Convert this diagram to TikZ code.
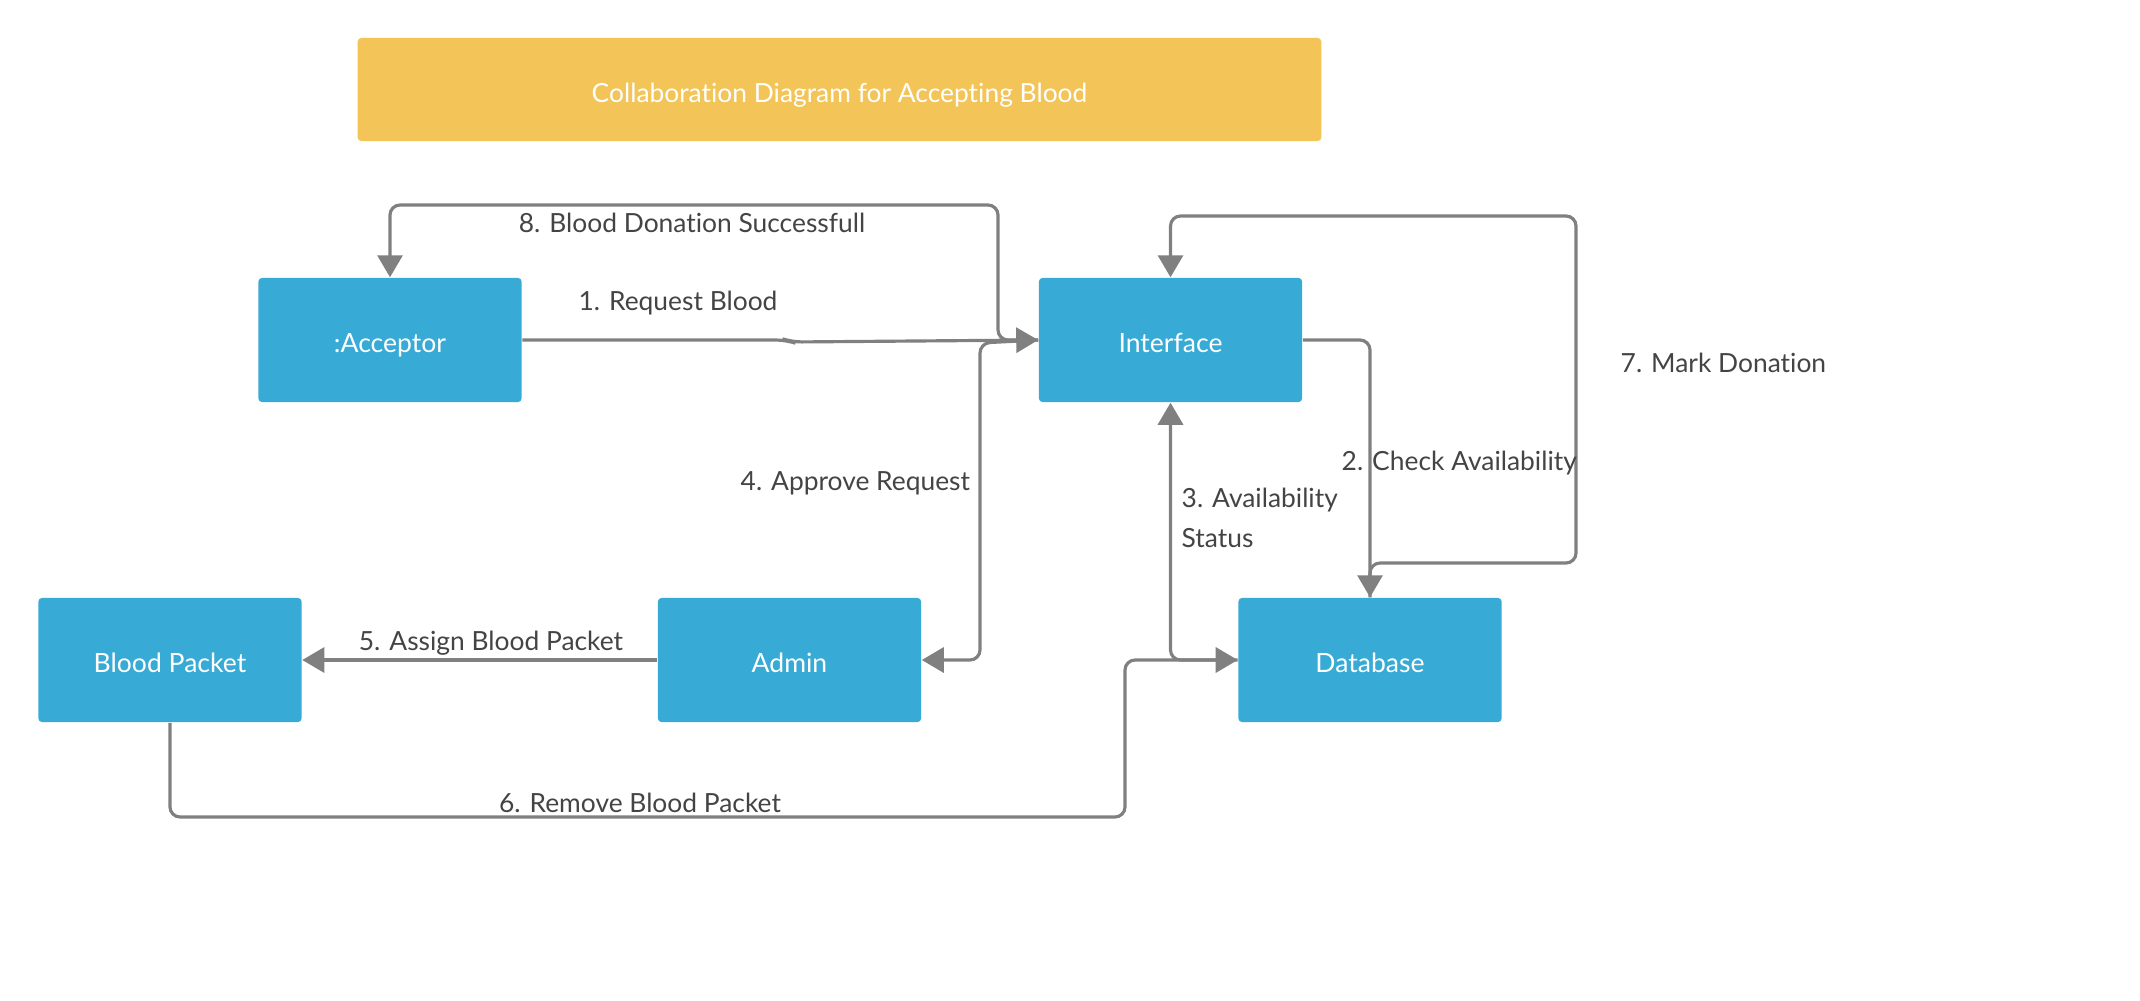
\documentclass[tikz,border=0pt]{standalone}
\usepackage{fontspec}
\setmainfont{Lato}[Ligatures=NoCommon]
\usetikzlibrary{arrows.meta}
\definecolor{boxblue}{HTML}{38AAD6}
\definecolor{titleyellow}{HTML}{F3C457}
\definecolor{linegray}{HTML}{808080}
\definecolor{labelgray}{HTML}{444444}
\begin{document}
\begin{tikzpicture}[x=0.01cm,y=-0.01cm,
  box/.style={fill=boxblue, text=white, minimum width=2.63cm, minimum height=1.24cm, inner sep=0pt, text height=0.3cm, text depth=0.05cm, font=\fontsize{7.55pt}{9pt}\selectfont, rounded corners=1pt},
  conn/.style={draw=linegray, line width=0.9pt, rounded corners=0.1cm, -{Triangle[length=0.22cm,width=0.25cm]}},
  lbl/.style={text=labelgray, font=\fontsize{7.5pt}{11.4pt}\selectfont, inner sep=0pt}]
\useasboundingbox (0,0) rectangle (2140,1000);
\fill[white] (0,0) rectangle (2140,1000);
\node[fill=titleyellow, text=white, minimum width=9.63cm, minimum height=1.03cm, inner sep=0pt, text height=0.3cm, text depth=0.05cm, rounded corners=1pt, font=\fontsize{7.5pt}{10pt}\selectfont] (title) at (839.5,89.5) {Collaboration Diagram for Accepting Blood};
\node[box] (acc) at (390,340) {:Acceptor};
\node[box] (intf) at (1170.5,340) {Interface};
\node[box] (bp) at (170,660) {Blood Packet};
\node[box] (adm) at (789.5,660) {Admin};
\node[box] (db) at (1370,660) {Database};
% connectors
\draw[conn] (acc.east) -- (786,340) -- (792,342) -- (intf.west);
\draw[conn] (intf.west) -- (998,340) -- (998,205) -- (390,205) -- (acc.north);
\draw[conn] (intf.west) -- (980,343) -- (980,660) -- (adm.east);
\draw[conn] (intf.east) -| (db.north);
\draw[conn] (db.west) -| (intf.south);
\draw[conn] (adm.west) -- (bp.east);
\draw[conn] (bp.south) -- (170,817) -- (1125,817) -- (1125,660) -- (db.west);
\draw[conn] (db.north) -- (1370,563) -- (1576,563) -- (1576,216) -- (1170.5,216) -- (intf.north);
% labels
\node[lbl] (l8) at (692,223) {8. Blood Donation Successfull};
\node[lbl] (l1) at (678,303) {1. Request Blood};
\node[lbl, anchor=west] (l4) at (740,483) {4. Approve Request};
\node[lbl, anchor=west] (l2) at (1341,463) {2. Check Availability};
\node[lbl, anchor=west, align=left] (l3) at (1181,518) {3. Availability\\Status};
\node[lbl, anchor=west] (l7) at (1620,363) {7. Mark Donation};
\node[lbl] (l5) at (491,643) {5. Assign Blood Packet};
\node[lbl] (l6) at (640,803) {6. Remove Blood Packet};
\end{tikzpicture}
\end{document}
